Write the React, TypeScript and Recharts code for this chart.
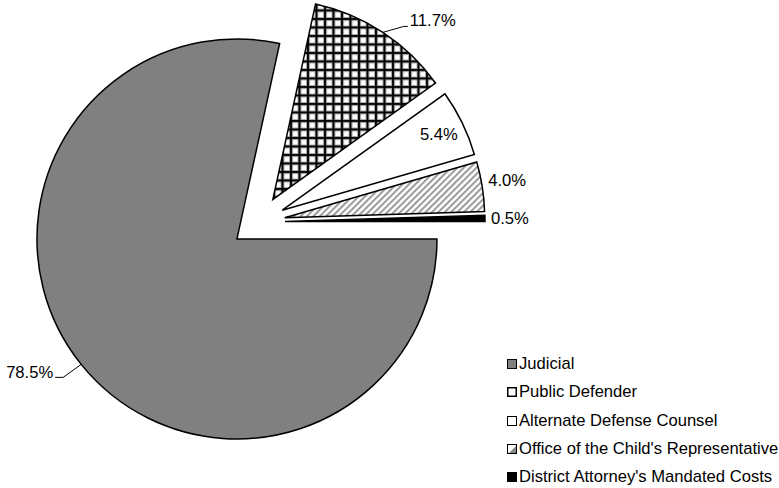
import { PieChart, Pie, Cell } from 'recharts'

// Share of total appropriation by agency, percent
const categories = [
  'Judicial',
  'Public Defender',
  'Alternate Defense Counsel',
  "Office of the Child's Representative",
  "District Attorney's Mandated Costs",
]
const shares = [78.5, 11.7, 5.4, 4.0, 0.5]

const fills = ['#808080', 'url(#grid)', '#ffffff', 'url(#diag)', '#000000']
const labelModes = ['leftLeader', 'rightLeader', 'inside', 'outside', 'outside']
const labelLift = [0, 0, 0, -6, 0]

const FONT = '"Liberation Sans", Arial, sans-serif'
const FS = 16.6
const START = 0
const END = -360
const CX = 258
const CY = 222
const R = 200
const EXPLODE = 27
const RAD = Math.PI / 180

const total = shares.reduce((a, b) => a + b, 0)
const midAngles: number[] = []
{
  let cum = 0
  shares.forEach((v) => {
    midAngles.push(START + ((cum + v / 2) / total) * (END - START))
    cum += v
  })
}

const data = categories.map((name, i) => ({ name, value: shares[i] }))

function makeLabel(k: number) {
  return (props: any) => {
    if (props.index !== k) return null
    const { cx, cy, midAngle } = props
    const cos = Math.cos(-midAngle * RAD)
    const sin = Math.sin(-midAngle * RAD)
    const text = `${shares[k].toFixed(1)}%`
    const common = { fontFamily: FONT, fontSize: FS, fill: '#000' }
    const mode = labelModes[k]
    if (mode === 'inside') {
      const r = R * 0.87
      return (
        <text x={cx + r * cos} y={cy + r * sin} textAnchor="middle" dominantBaseline="central" {...common}>
          {text}
        </text>
      )
    }
    const ex = cx + R * cos
    const ey = cy + R * sin
    if (mode === 'outside') {
      return (
        <text x={ex + 6} y={ey + labelLift[k]} textAnchor="start" dominantBaseline="central" {...common}>
          {text}
        </text>
      )
    }
    if (mode === 'rightLeader') {
      return (
        <g>
          <polyline
            points={`${ex},${ey} ${ex + 21},${ey - 6} ${ex + 25},${ey - 6}`}
            fill="none"
            stroke="#000"
            strokeWidth={1}
          />
          <text x={ex + 27} y={ey - 12} textAnchor="start" dominantBaseline="central" {...common}>
            {text}
          </text>
        </g>
      )
    }
    return (
      <g>
        <polyline
          points={`${ex},${ey} ${ex - 18},${ey + 13} ${ex - 26},${ey + 13}`}
          fill="none"
          stroke="#000"
          strokeWidth={1}
        />
        <text x={ex - 28} y={ey + 8} textAnchor="end" dominantBaseline="central" {...common}>
          {text}
        </text>
      </g>
    )
  }
}

function Swatch({ i }: { i: number }) {
  return (
    <svg width={10} height={10} style={{ display: 'block', flex: 'none' }}>
      <rect
        x={0.5}
        y={0.5}
        width={9}
        height={9}
        fill={i === 0 ? '#808080' : i === 4 ? '#000' : '#fff'}
        stroke="#000"
        strokeWidth={i === 1 ? 2 : 1}
      />
      {i === 3 && <polygon points="9,2 9,9 2,9" fill="#888" />}
    </svg>
  )
}

function ChartLegend() {
  return (
    <div
      style={{
        position: 'absolute',
        left: 507,
        top: 350,
        fontFamily: FONT,
        fontSize: FS,
        color: '#000',
      }}
    >
      {categories.map((c, i) => (
        <div key={c} style={{ display: 'flex', alignItems: 'center', height: 28.3, whiteSpace: 'nowrap' }}>
          <Swatch i={i} />
          <span style={{ marginLeft: 2 }}>{c}</span>
        </div>
      ))}
    </div>
  )
}

export default function App() {
  return (
    <div style={{ position: 'absolute', left: 0, top: 0, width: 779, height: 488, background: '#fff', overflow: 'hidden' }}>
      <PieChart width={779} height={488} margin={{ top: 0, right: 0, bottom: 0, left: 0 }}>
        <defs>
          <pattern id="grid" patternUnits="userSpaceOnUse" width={8.5} height={8.5}>
            <rect width={8.5} height={8.5} fill="#fff" />
            <rect x={0} y={0} width={8.5} height={4} fill="#b0b0b0" />
            <rect x={0} y={0} width={4} height={8.5} fill="#b0b0b0" />
            <rect x={0} y={1} width={8.5} height={2} fill="#000" />
            <rect x={1} y={0} width={2} height={8.5} fill="#000" />
          </pattern>
          <pattern id="diag" patternUnits="userSpaceOnUse" width={4.5} height={4.5} patternTransform="rotate(45)">
            <rect width={4.5} height={4.5} fill="#fff" />
            <rect x={0} y={0} width={2} height={4.5} fill="#9a9a9a" />
          </pattern>
        </defs>
        {shares.map((_, k) => (
          <Pie
            key={k}
            data={data}
            dataKey="value"
            nameKey="name"
            cx={CX + EXPLODE * Math.cos(-midAngles[k] * RAD)}
            cy={CY + EXPLODE * Math.sin(-midAngles[k] * RAD)}
            outerRadius={R}
            startAngle={START}
            endAngle={END}
            isAnimationActive={false}
            label={makeLabel(k)}
            labelLine={false}
          >
            {data.map((d, i) => (
              <Cell
                key={d.name}
                fill={i === k ? fills[i] : 'none'}
                stroke={i === k ? '#000' : 'none'}
                strokeWidth={1.5}
              />
            ))}
          </Pie>
        ))}
      </PieChart>
      <ChartLegend />
    </div>
  )
}
